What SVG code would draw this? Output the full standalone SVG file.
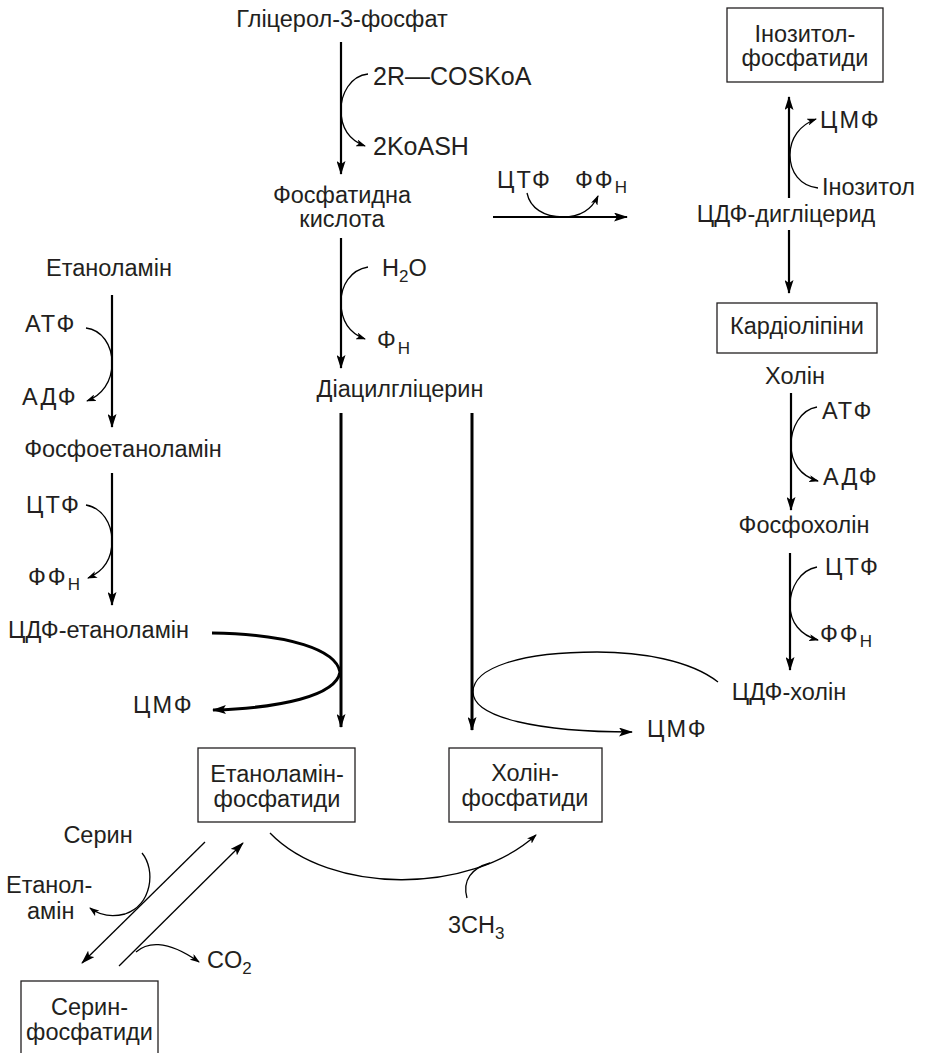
<svg xmlns="http://www.w3.org/2000/svg" width="926" height="1053" viewBox="0 0 926 1053">
<style>
text{font-family:"Liberation Sans",Arial,sans-serif;font-size:23.5px;fill:#231f20}
.c{text-anchor:middle}
.ab{letter-spacing:2px}
.big{font-size:25px}
.sub{font-size:17px}
.box{fill:#fff;stroke:#231f20;stroke-width:1.3}
.main{fill:none;stroke:#000;stroke-width:2.2}
.thick{fill:none;stroke:#000;stroke-width:3}
.thin{fill:none;stroke:#000;stroke-width:1.3}
</style>
<defs>
<marker id="ah" viewBox="0 0 10 7" refX="9" refY="3.5" markerWidth="10" markerHeight="7" markerUnits="userSpaceOnUse" orient="auto"><path d="M0,0 L10,3.5 L0,7 L2.5,3.5 z" fill="#000"/></marker>
<marker id="ahb" viewBox="0 0 14 9" refX="13" refY="4.5" markerWidth="14" markerHeight="9" markerUnits="userSpaceOnUse" orient="auto"><path d="M0,0 L14,4.5 L0,9 L3,4.5 z" fill="#000"/></marker>
</defs>
<rect width="926" height="1053" fill="#fff"/>

<g id="connectors">
<line class="main" x1="341" y1="42" x2="341" y2="174" marker-end="url(#ahb)"/>
<path class="thin" d="M368,74 C350,76 341,94 341,110 C341,128 349,140 365,146" marker-end="url(#ah)"/>
<line class="main" x1="341" y1="238" x2="341" y2="368" marker-end="url(#ahb)"/>
<path class="thin" d="M368,267 C350,270 341,286 341,302 C341,320 349,333 365,339" marker-end="url(#ah)"/>
<line class="thick" x1="341" y1="413" x2="341" y2="727" marker-end="url(#ahb)"/>
<line class="thick" x1="472" y1="413" x2="472" y2="730" marker-end="url(#ahb)"/>
<line class="main" x1="493" y1="217" x2="627" y2="217" marker-end="url(#ahb)"/>
<path class="thin" d="M527,193 C530,208 544,217 563,217 C580,217 592,209 598,196" marker-end="url(#ah)"/>
<line class="main" x1="789" y1="198" x2="789" y2="97" marker-end="url(#ahb)"/>
<path class="thin" d="M818,188 C800,186 790,172 790,155 C790,138 800,125 816,119" marker-end="url(#ah)"/>
<line class="main" x1="789" y1="230" x2="789" y2="293" marker-end="url(#ahb)"/>
<line class="main" x1="791" y1="393" x2="791" y2="510" marker-end="url(#ahb)"/>
<path class="thin" d="M817,407 C800,410 791,428 791,445 C791,462 800,476 818,481" marker-end="url(#ah)"/>
<line class="main" x1="790" y1="553" x2="790" y2="670" marker-end="url(#ahb)"/>
<path class="thin" d="M817,567 C800,570 790,588 790,605 C790,622 800,635 818,640" marker-end="url(#ah)"/>
<line class="main" x1="112" y1="295" x2="112" y2="427" marker-end="url(#ahb)"/>
<path class="thin" d="M86,328 C102,330 112,345 112,363 C112,382 102,395 87,401" marker-end="url(#ah)"/>
<line class="main" x1="112" y1="473" x2="112" y2="605" marker-end="url(#ahb)"/>
<path class="thin" d="M86,505 C102,508 112,523 112,541 C112,560 102,572 88,578" marker-end="url(#ah)"/>
<path class="thick" d="M212,633 C290,634 336,650 340,672 C336,696 280,708 213,710" marker-end="url(#ahb)"/>
<path class="thin" d="M718,682 C690,660 640,652 597,652 C520,652 473,668 473,692 C473,718 540,732 632,732" marker-end="url(#ahb)"/>
<line class="thin" x1="205" y1="842" x2="82" y2="963" marker-end="url(#ahb)"/>
<line class="thin" x1="119" y1="966" x2="243" y2="843" marker-end="url(#ahb)"/>
<path class="thin" d="M142,853 C156,870 152,905 125,914 C110,918 98,914 90,908" marker-end="url(#ah)"/>
<path class="thin" d="M136,952 C146,943 165,938 199,962" marker-end="url(#ah)"/>
<path class="thin" d="M270,833 C330,895 470,895 536,835" marker-end="url(#ah)"/>
<path class="thin" d="M467,898 C462,880 472,868 490,863"/>
</g>

<g id="n-glycerol3p"><text class="c" x="342" y="27">Гліцерол-3-фосфат</text></g>
<g id="n-acylcoa"><text class="big" x="373" y="85">2R—COSKoA</text></g>
<g id="n-koash"><text class="big" x="373" y="155">2KoASH</text></g>
<g id="n-pa"><text class="c" x="342" y="203">Фосфатидна</text><text class="c" x="342" y="227">кислота</text></g>
<g id="n-h2o"><text x="382" y="276">H<tspan class="sub" dy="6">2</tspan><tspan dy="-6">O</tspan></text></g>
<g id="n-pi"><text class="ab" x="377" y="348">Φ<tspan class="sub" dy="6">Н</tspan></text></g>
<g id="n-dag"><text class="c" x="400" y="397">Діацилгліцерин</text></g>
<g id="n-ctp1"><text class="ab" x="497" y="188">ЦТФ</text></g>
<g id="n-ppi1"><text class="ab" x="575" y="188">ФФ<tspan class="sub" dy="5">Н</tspan></text></g>

<g id="n-inositolphos"><rect class="box" x="727" y="8" width="156" height="74"/><text class="c" x="805" y="42">Інозитол-</text><text class="c" x="805" y="66">фосфатиди</text></g>
<g id="n-cmp1"><text class="ab" x="820" y="128">ЦМФ</text></g>
<g id="n-inositol"><text x="822" y="195">Інозитол</text></g>
<g id="n-cdpdag"><text class="c" x="786" y="222">ЦДФ-дигліцерид</text></g>
<g id="n-cardiolipin"><rect class="box" x="717" y="303" width="160" height="50"/><text class="c" x="797" y="334">Кардіоліпіни</text></g>
<g id="n-choline"><text class="c" x="795" y="384">Холін</text></g>
<g id="n-atp2"><text class="ab" x="822" y="419">АТФ</text></g>
<g id="n-adp2"><text class="ab" x="823" y="485">АДФ</text></g>
<g id="n-phosphocholine"><text class="c" x="804" y="533">Фосфохолін</text></g>
<g id="n-ctp3"><text class="ab" x="825" y="575">ЦТФ</text></g>
<g id="n-ppi3"><text class="ab" x="820" y="642">ФФ<tspan class="sub" dy="5">Н</tspan></text></g>
<g id="n-cdpcholine"><text class="c" x="789" y="700">ЦДФ-холін</text></g>
<g id="n-cmp3"><text class="ab" x="647" y="737">ЦМФ</text></g>

<g id="n-ethanolamine"><text class="c" x="109" y="276">Етаноламін</text></g>
<g id="n-atp1"><text class="ab" x="25" y="332">АТФ</text></g>
<g id="n-adp1"><text class="ab" x="22" y="405">АДФ</text></g>
<g id="n-phosphoethanolamine"><text class="c" x="123" y="457">Фосфоетаноламін</text></g>
<g id="n-ctp2"><text class="ab" x="26" y="513">ЦТФ</text></g>
<g id="n-ppi2"><text class="ab" x="28" y="585">ФФ<tspan class="sub" dy="5">Н</tspan></text></g>
<g id="n-cdpethanolamine"><text x="8" y="638">ЦДФ-етаноламін</text></g>
<g id="n-cmp2"><text class="ab" x="133" y="713">ЦМФ</text></g>

<g id="n-ethphos"><rect class="box" x="198" y="748" width="157" height="74"/><text class="c" x="277" y="782">Етаноламін-</text><text class="c" x="277" y="807">фосфатиди</text></g>
<g id="n-cholphos"><rect class="box" x="449" y="748" width="153" height="74"/><text class="c" x="525" y="781">Холін-</text><text class="c" x="525" y="806">фосфатиди</text></g>
<g id="n-serine"><text class="c" x="98" y="843">Серин</text></g>
<g id="n-ethanolamine2"><text x="6" y="893">Етанол-</text><text x="27" y="919">амін</text></g>
<g id="n-co2"><text x="207" y="968">CO<tspan class="sub" dy="6">2</tspan></text></g>
<g id="n-ch3"><text x="448" y="933">3CH<tspan class="sub" dy="6">3</tspan></text></g>
<g id="n-serphos"><rect class="box" x="21" y="981" width="137" height="80"/><text class="c" x="89.5" y="1015">Серин-</text><text class="c" x="89.5" y="1040">фосфатиди</text></g>
</svg>
